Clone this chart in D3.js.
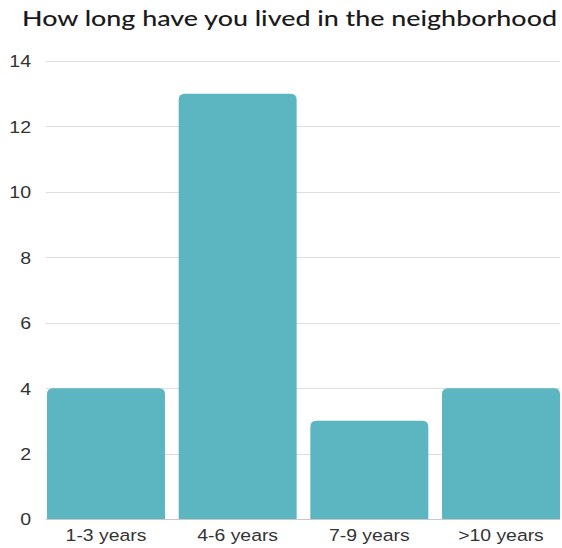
<!DOCTYPE html>
<html>
<head>
<meta charset="utf-8">
<script src="https://cdn.jsdelivr.net/npm/d3@7"></script>
<style>
  html, body { margin: 0; padding: 0; background: #fff; }
  svg { display: block; }
</style>
</head>
<body>
<svg id="chart" width="562" height="548"></svg>
<script>
const categories = ["1-3 years", "4-6 years", "7-9 years", ">10 years"];
const counts = [4, 13, 3, 4];
const yTicks = [0, 2, 4, 6, 8, 10, 12, 14];
const titleText = "How long have you lived in the neighborhood";

const svg = d3.select("#chart");
const margin = { top: 61, right: 2, bottom: 29, left: 47 };
const W = 562, H = 548;

const x = d3.scaleBand()
  .domain(categories)
  .range([margin.left, W - margin.right])
  .paddingInner(0.104)
  .paddingOuter(0);

const y = d3.scaleLinear()
  .domain([0, 14])
  .range([H - margin.bottom, margin.top]);

// title
svg.append("text")
  .attr("x", 22)
  .attr("y", 26)
  .attr("font-family", "Lato, 'Noto Sans', sans-serif")
  .attr("font-size", 21)
  .attr("font-weight", 500)
  .attr("fill", "#1a1a1a")
  .attr("textLength", 535)
  .attr("lengthAdjust", "spacingAndGlyphs")
  .text(titleText);

// gridlines
svg.append("g")
  .selectAll("line")
  .data(yTicks.filter(d => d > 0))
  .join("line")
  .attr("x1", 46)
  .attr("x2", W - 2)
  .attr("y1", d => Math.round(y(d)) + 0.5)
  .attr("y2", d => Math.round(y(d)) + 0.5)
  .attr("stroke", "#dedede")
  .attr("stroke-width", 1);

// y axis labels (slightly widened glyphs)
const yAxis = d3.axisLeft(y).tickValues(yTicks).tickSize(0).tickPadding(0);
const yg = svg.append("g")
  .attr("transform", "translate(31,0)")
  .call(yAxis);
yg.select(".domain").remove();
yg.selectAll("text")
  .attr("font-family", "'Liberation Sans', Arial, sans-serif")
  .attr("font-size", 17)
  .attr("fill", "#333")
  .attr("dy", "0.35em")
  .attr("transform", "scale(1.15,1)");

// bars with rounded top corners
const r = 6;
function barPath(d, i) {
  const x0 = x(categories[i]);
  const w = x.bandwidth();
  const y0 = y(d);
  const yb = y(0);
  return `M${x0},${yb}V${y0 + r}Q${x0},${y0} ${x0 + r},${y0}H${x0 + w - r}Q${x0 + w},${y0} ${x0 + w},${y0 + r}V${yb}Z`;
}
svg.append("g")
  .selectAll("path")
  .data(counts)
  .join("path")
  .attr("d", barPath)
  .attr("fill", "#5bb6c1");

// baseline
svg.append("line")
  .attr("x1", 46)
  .attr("x2", W - 2)
  .attr("y1", Math.round(y(0)) + 0.5)
  .attr("y2", Math.round(y(0)) + 0.5)
  .attr("stroke", "#c8c8c8");

// x axis labels
const xAxis = d3.axisBottom(x).tickSize(0).tickPadding(0);
const xg = svg.append("g")
  .attr("transform", `translate(0,${y(0) + 10})`)
  .call(xAxis);
xg.select(".domain").remove();
xg.selectAll("text")
  .attr("font-family", "'Liberation Sans', Arial, sans-serif")
  .attr("font-size", 17)
  .attr("fill", "#333")
  .attr("dy", "0.71em")
  .attr("transform", "scale(1.14,1)");
</script>
</body>
</html>
